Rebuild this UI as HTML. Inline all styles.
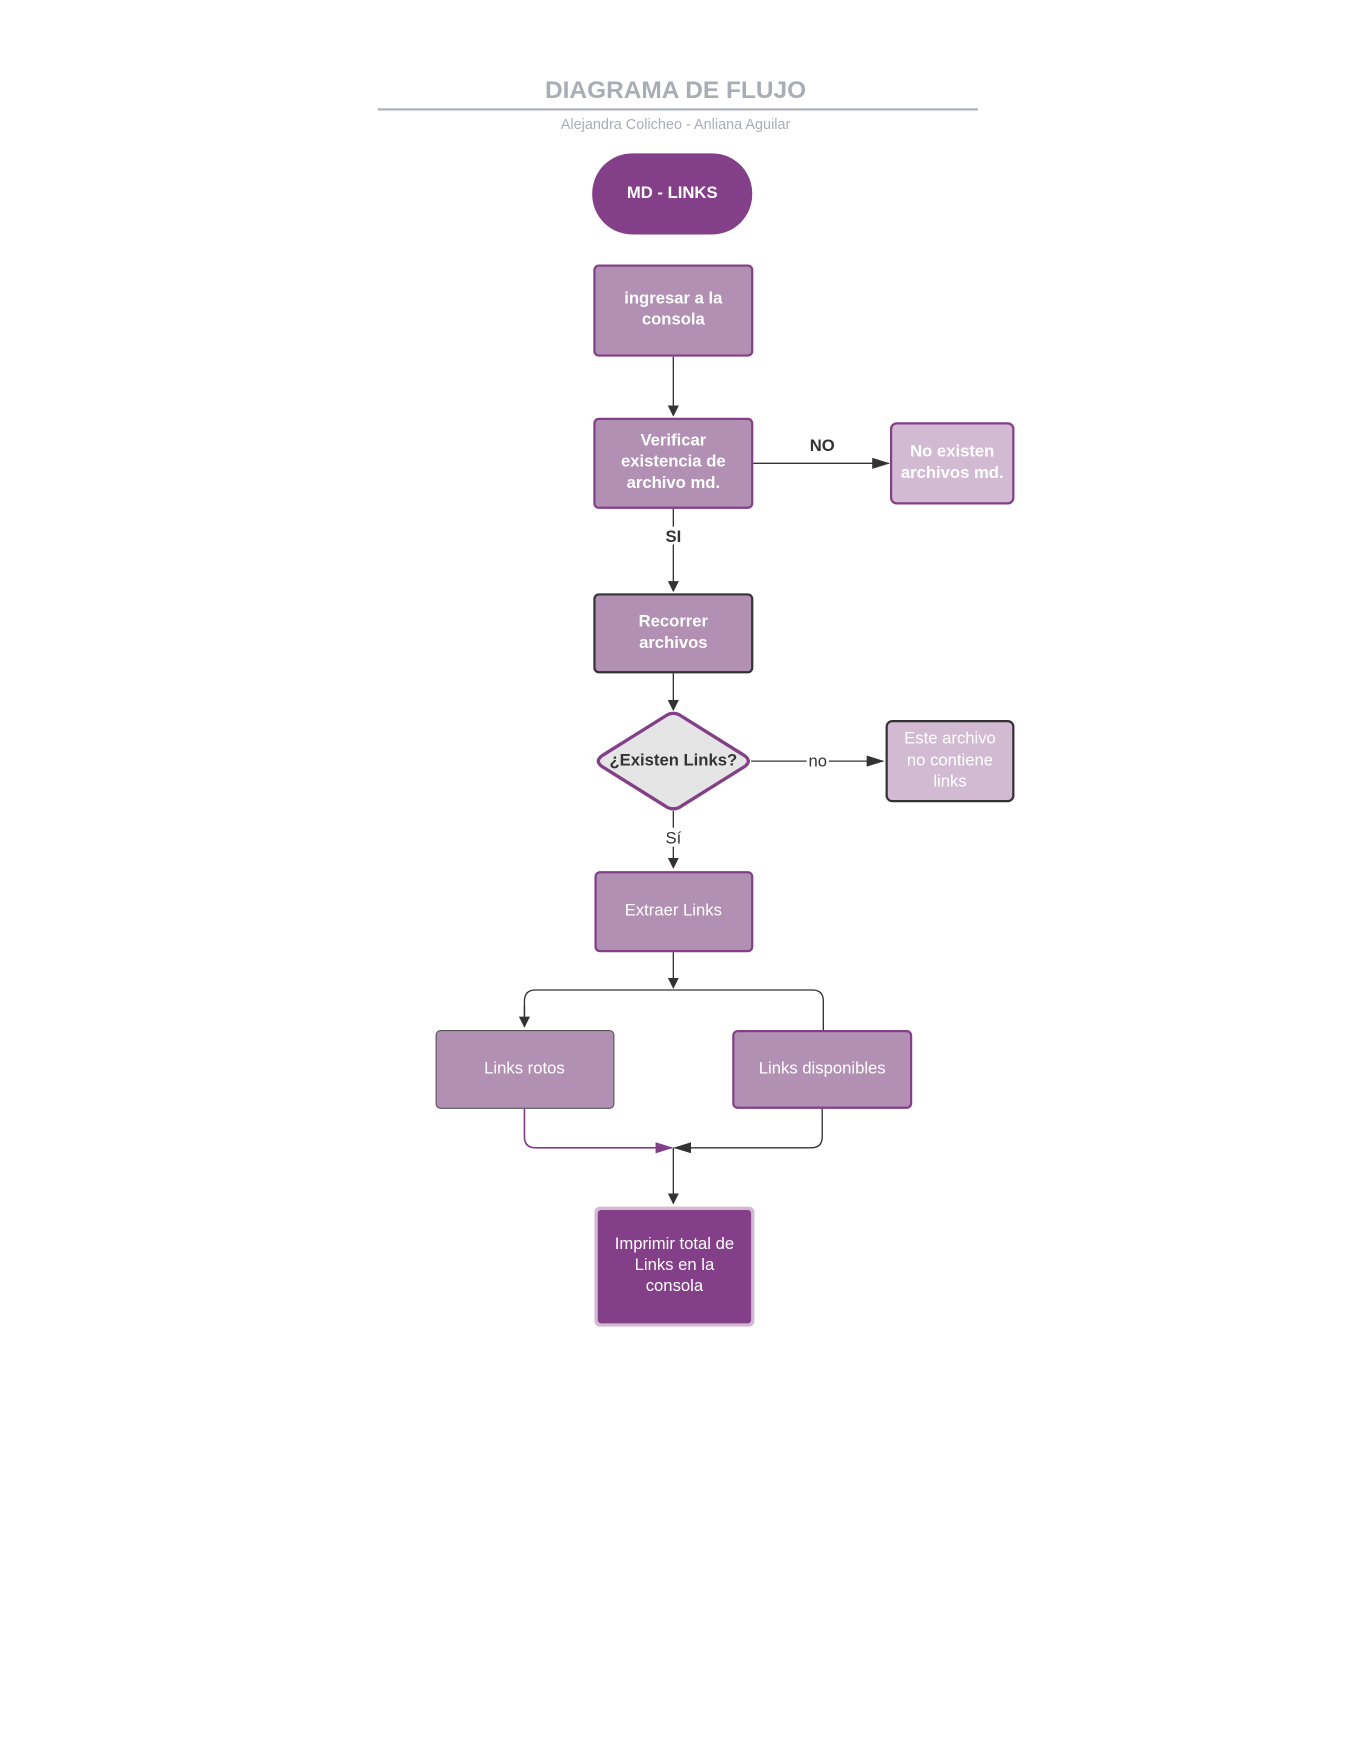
<!DOCTYPE html>
<html><head><meta charset="utf-8"><style>html,body{margin:0;padding:0;background:#fff}svg{display:block}text{font-family:"Liberation Sans",sans-serif}</style></head>
<body>
<svg width="1360" height="1760" viewBox="0 0 1224 1584" xmlns="http://www.w3.org/2000/svg">
<defs>
<marker id="a" markerWidth="10" markerHeight="10" refX="9" refY="5" orient="auto" markerUnits="userSpaceOnUse"><path d="M0,0 L10,5 L0,10 z" fill="#333"/></marker>
<marker id="p" markerWidth="16" markerHeight="10" refX="15" refY="5" orient="auto" markerUnits="userSpaceOnUse"><path d="M0,0 L16,5 L0,10 z" fill="#833f87"/></marker>
<marker id="h" markerWidth="16" markerHeight="10" refX="15" refY="5" orient="auto" markerUnits="userSpaceOnUse"><path d="M0,0 L16,5 L0,10 z" fill="#333"/></marker>
</defs>
<text x="608" y="88" text-anchor="middle" font-size="22" font-weight="bold" fill="#a9adb5">DIAGRAMA DE FLUJO</text>
<line x1="340" y1="98.5" x2="880" y2="98.5" stroke="#a9adb5" stroke-width="2"/>
<text x="608" y="116" text-anchor="middle" font-size="13" fill="#a9adb5">Alejandra Colicheo - Anliana Aguilar</text>

<rect x="533" y="138" width="144" height="73" rx="36" fill="#833f87"/>
<text x="605" y="178" text-anchor="middle" font-size="15" font-weight="bold" fill="#fff">MD - LINKS</text>

<rect x="535" y="239" width="142" height="81" rx="4" fill="#b190b4" stroke="#833f87" stroke-width="2"/>
<text text-anchor="middle" font-size="15" font-weight="bold" fill="#fff"><tspan x="606" y="273">ingresar a la</tspan><tspan x="606" y="292">consola</tspan></text>
<line x1="606" y1="321" x2="606" y2="374" stroke="#333" stroke-width="1.2" marker-end="url(#a)"/>

<rect x="535" y="377" width="142" height="80" rx="4" fill="#b190b4" stroke="#833f87" stroke-width="2"/>
<text text-anchor="middle" font-size="15" font-weight="bold" fill="#fff"><tspan x="606" y="401">Verificar</tspan><tspan x="606" y="420">existencia de</tspan><tspan x="606" y="439">archivo  md.</tspan></text>
<line x1="678" y1="417" x2="800" y2="417" stroke="#333" stroke-width="1.2" marker-end="url(#h)"/>
<text x="740" y="406" text-anchor="middle" font-size="15" font-weight="bold" fill="#333">NO</text>
<rect x="802" y="381" width="110" height="72" rx="5" fill="#d3bad3" stroke="#833f87" stroke-width="2"/>
<text text-anchor="middle" font-size="15" font-weight="bold" fill="#fff"><tspan x="857" y="411">No existen</tspan><tspan x="857" y="430">archivos md.</tspan></text>

<line x1="606" y1="458" x2="606" y2="532" stroke="#333" stroke-width="1.2" marker-end="url(#a)"/>
<rect x="598" y="474" width="16" height="16" fill="#fff"/>
<text x="606" y="488" text-anchor="middle" font-size="15" font-weight="bold" fill="#333">SI</text>

<rect x="535" y="535" width="142" height="70" rx="4" fill="#b190b4" stroke="#333" stroke-width="2"/>
<text text-anchor="middle" font-size="15" font-weight="bold" fill="#fff"><tspan x="606" y="564">Recorrer</tspan><tspan x="606" y="583">archivos</tspan></text>
<line x1="606" y1="606" x2="606" y2="639" stroke="#333" stroke-width="1.2" marker-end="url(#a)"/>

<path d="M598,645 Q606,639 614,645 L670,680 Q677,685 670,690 L614,725 Q606,731 598,725 L542,690 Q535,685 542,680 Z" fill="#e5e5e5" stroke="#833f87" stroke-width="3"/>
<text x="606" y="689" text-anchor="middle" font-size="15" font-weight="bold" fill="#333">¿Existen Links?</text>
<line x1="676" y1="685" x2="795" y2="685" stroke="#333" stroke-width="1.2" marker-end="url(#h)"/>
<rect x="726" y="676" width="20" height="16" fill="#fff"/>
<text x="736" y="690" text-anchor="middle" font-size="15" fill="#333">no</text>
<rect x="798" y="649" width="114" height="72" rx="5" fill="#d3bad3" stroke="#333" stroke-width="2"/>
<text text-anchor="middle" font-size="15" fill="#fff"><tspan x="855" y="669">Este archivo</tspan><tspan x="855" y="689">no contiene</tspan><tspan x="855" y="708">links</tspan></text>

<line x1="606" y1="730" x2="606" y2="781" stroke="#333" stroke-width="1.2" marker-end="url(#a)"/>
<rect x="597" y="745" width="18" height="17" fill="#fff"/>
<text x="606" y="759" text-anchor="middle" font-size="15" fill="#333">Sí</text>

<rect x="536" y="785" width="141" height="71" rx="4" fill="#b190b4" stroke="#833f87" stroke-width="2"/>
<text x="606" y="824" text-anchor="middle" font-size="15" fill="#fff">Extraer Links</text>
<line x1="606" y1="857" x2="606" y2="889" stroke="#333" stroke-width="1.2" marker-end="url(#a)"/>
<path d="M472,924 L472,901 Q472,891 482,891 L731,891 Q741,891 741,901 L741,927" fill="none" stroke="#333" stroke-width="1.2" marker-start="none"/>
<line x1="472" y1="905" x2="472" y2="924" stroke="#333" stroke-width="1.2" marker-end="url(#a)"/>

<rect x="392.5" y="927.5" width="160" height="70" rx="4" fill="#b190b4" stroke="#555" stroke-width="1"/>
<text x="472" y="966" text-anchor="middle" font-size="15" fill="#fff">Links rotos</text>
<rect x="660" y="928" width="160" height="69" rx="4" fill="#b190b4" stroke="#833f87" stroke-width="2"/>
<text x="740" y="966" text-anchor="middle" font-size="15" fill="#fff">Links disponibles</text>

<path d="M472,998 L472,1023 Q472,1033 482,1033 L605,1033" fill="none" stroke="#833f87" stroke-width="1.5" marker-end="url(#p)"/>
<path d="M740,998 L740,1023 Q740,1033 730,1033 L607,1033" fill="none" stroke="#333" stroke-width="1.2" marker-end="url(#h)"/>
<line x1="606" y1="1033" x2="606" y2="1083" stroke="#333" stroke-width="1.2" marker-end="url(#a)"/>

<rect x="535" y="1086" width="144" height="108" rx="5" fill="#d3bad3"/>
<rect x="538" y="1089" width="138" height="102" rx="3" fill="#833f87"/>
<text text-anchor="middle" font-size="15" fill="#fff"><tspan x="607" y="1124">Imprimir total de</tspan><tspan x="607" y="1143">Links en la</tspan><tspan x="607" y="1162">consola</tspan></text>
</svg>
</body></html>
